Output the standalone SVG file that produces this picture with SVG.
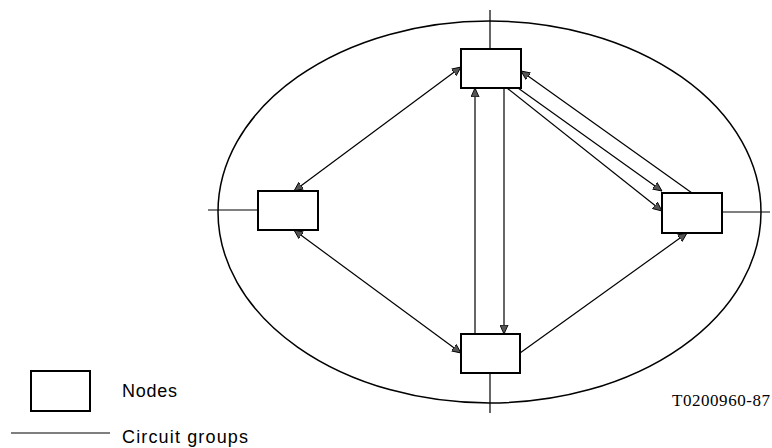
<svg xmlns="http://www.w3.org/2000/svg" width="772" height="448" viewBox="0 0 772 448">
<style>
.node{fill:#fff;stroke:#000;stroke-width:2}
.ln{fill:none;stroke:#000;stroke-width:1.2}
.sans{font-family:"Liberation Sans",Arial,sans-serif;font-size:18px;fill:#000}
.serif{font-family:"Liberation Serif","Times New Roman",serif;font-size:17px;fill:#000}
</style>
<defs>
<marker id="ah" viewBox="0 0 10 10" refX="10" refY="5" markerWidth="9" markerHeight="9" markerUnits="userSpaceOnUse" orient="auto">
<path d="M0,0.5 L10,5 L0,9.5 Z" fill="#555" stroke="#000" stroke-width="1"/>
</marker>
<marker id="ahs" viewBox="0 0 10 10" refX="10" refY="5" markerWidth="9" markerHeight="9" markerUnits="userSpaceOnUse" orient="auto-start-reverse">
<path d="M0,0.5 L10,5 L0,9.5 Z" fill="#555" stroke="#000" stroke-width="1"/>
</marker>
</defs>
<g id="boundary">
<ellipse cx="489.5" cy="212" rx="271.5" ry="191" fill="none" stroke="#000" stroke-width="1.5"/>
<line class="ln" x1="490" y1="10" x2="490" y2="49"/>
<line class="ln" x1="490" y1="373" x2="490" y2="413"/>
<line class="ln" x1="208" y1="210" x2="258" y2="210"/>
<line class="ln" x1="722" y1="212" x2="770" y2="212"/>
</g>
<g id="connectors">
<line class="ln" x1="294" y1="191" x2="461" y2="67" marker-start="url(#ahs)" marker-end="url(#ah)"/>
<line class="ln" x1="294" y1="230" x2="461" y2="353" marker-start="url(#ahs)" marker-end="url(#ah)"/>
<line class="ln" x1="520" y1="353" x2="687" y2="233" marker-end="url(#ah)"/>
<line class="ln" x1="475" y1="334" x2="475" y2="88" marker-end="url(#ah)"/>
<line class="ln" x1="504" y1="88" x2="504" y2="334" marker-end="url(#ah)"/>
<line class="ln" x1="692" y1="193" x2="521" y2="71" marker-end="url(#ah)"/>
<line class="ln" x1="518" y1="88" x2="662" y2="191" marker-end="url(#ah)"/>
<line class="ln" x1="507" y1="88" x2="662" y2="211" marker-end="url(#ah)"/>
</g>
<g id="node-top"><rect class="node" x="461" y="49" width="60" height="39"/></g>
<g id="node-left"><rect class="node" x="258" y="191" width="60" height="39"/></g>
<g id="node-right"><rect class="node" x="662" y="193" width="60" height="40"/></g>
<g id="node-bottom"><rect class="node" x="461" y="334" width="59" height="39"/></g>
<g id="legend">
<rect class="node" x="31" y="371" width="59" height="40"/>
<text class="sans" x="122" y="397" textLength="55">Nodes</text>
<line class="ln" x1="11" y1="433" x2="110" y2="433"/>
<text class="sans" x="122" y="443" textLength="126">Circuit groups</text>
<text class="serif" x="672" y="406" textLength="98">T0200960-87</text>
</g>
</svg>
